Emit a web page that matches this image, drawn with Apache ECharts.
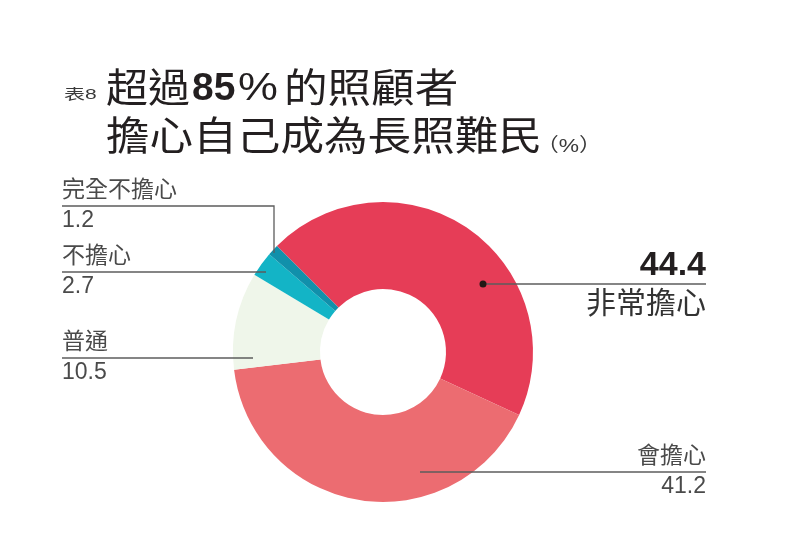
<!DOCTYPE html>
<html>
<head>
<meta charset="utf-8">
<script src="https://cdn.jsdelivr.net/npm/echarts@6/dist/echarts.min.js"></script>
<style>
  html, body { margin: 0; padding: 0; background: #fff; }
  #chart { width: 792px; height: 555px; }
</style>
</head>
<body>
<div id="chart"></div>
<script>
// data
const categories = ['非常擔心', '會擔心', '普通', '不擔心', '完全不擔心'];
const values = [44.4, 41.2, 10.5, 2.7, 1.2];
const colors = ['#e63d57', '#ec6c71', '#eff6ea', '#13b4c6', '#1190ab'];
const tableNo = '表8';
const titleLine1 = ['超過', '85', '%', '的照顧者'];
const titleLine2 = '擔心自己成為長照難民';
const unitText = '（%）';

// layout (pixels)
const center = [383, 352];
const anchors = [[100, -68], [37, 120], [-130, 6], [-117, -80], [-109, -99]];
const lineY = [284, 472, 358, 272, 206];
const lineEndX = [706, 706, 62, 62, 62];

const FONT = '"Liberation Sans", "Noto Sans CJK TC", sans-serif';
const INK = '#231f20';
const chart = echarts.init(document.getElementById('chart'));

const pieData = categories.map(function (name, i) {
    return { name: name, value: values[i], itemStyle: { color: colors[i] } };
});
const labelData = categories.map(function (name, i) {
    return { name: name, value: values[i], itemStyle: { color: 'rgba(0,0,0,0)' } };
});

const dot = [center[0] + anchors[0][0], center[1] + anchors[0][1]];

function titleText(x, y, text, size, sx, bold) {
    return {
        type: 'text', x: x, y: y, scaleX: sx,
        style: {
            text: text, fill: INK, verticalAlign: 'middle',
            font: (bold ? 'bold ' : '') + size + 'px ' + FONT
        }
    };
}

const pieBase = {
    type: 'pie',
    center: center,
    radius: [63, 150],
    startAngle: 135,
    clockwise: true,
    avoidLabelOverlap: false,
    silent: true
};

const option = {
    animation: false,
    backgroundColor: '#fff',
    graphic: [
        {
            type: 'text', x: 64, y: 95, scaleX: 1.5,
            style: { text: tableNo, font: '14px ' + FONT, fill: '#3a3a3a', verticalAlign: 'middle' }
        },
        titleText(106, 91, titleLine1[0], 40, 1.05, false),
        titleText(192, 89, titleLine1[1], 39, 1, true),
        titleText(238, 89, titleLine1[2], 39, 1.15, false),
        titleText(284, 91, titleLine1[3], 40, 1.09, false),
        titleText(106, 139, titleLine2, 40, 1.09, false),
        {
            type: 'text', x: 536, y: 147, scaleX: 1.2,
            style: { text: unitText, font: '19px ' + FONT, fill: '#3a3a3a', verticalAlign: 'middle' }
        },
        { type: 'circle', z: 100, shape: { cx: dot[0], cy: dot[1], r: 3.5 }, style: { fill: '#231815' } }
    ],
    series: [
        Object.assign({}, pieBase, {
            z: 2,
            data: pieData,
            itemStyle: { borderWidth: 0 },
            label: { show: false },
            labelLine: { show: false }
        }),
        // transparent copy on top, carrying labels and leader lines over the ring
        Object.assign({}, pieBase, {
            z: 5,
            data: labelData,
            itemStyle: { borderWidth: 0 },
            label: {
                show: true,
                position: 'outside',
                formatter: function (p) {
                    const v = p.value.toFixed(1);
                    if (p.dataIndex === 0) return '{big|' + v + '}\n{bn|' + p.name + '}';
                    return '{n|' + p.name + '}\n{v|' + v + '}';
                },
                rich: {
                    n: { fontSize: 23, lineHeight: 30, fontFamily: FONT, color: '#4a4a4a' },
                    v: { fontSize: 23, lineHeight: 30, fontFamily: FONT, color: '#4a4a4a' },
                    big: { fontSize: 34, lineHeight: 36, fontFamily: FONT, fontWeight: 'bold', color: INK },
                    bn: { fontSize: 30, lineHeight: 42, fontFamily: FONT, color: '#333' }
                }
            },
            labelLine: { show: true, lineStyle: { color: '#5c5c5c', width: 1.3 } },
            labelLayout: function (params) {
                const i = params.dataIndex;
                const ax = center[0] + anchors[i][0];
                const ay = center[1] + anchors[i][1];
                const right = lineEndX[i] > center[0];
                return {
                    x: lineEndX[i],
                    y: i === 0 ? lineY[i] - 36 : lineY[i],
                    align: right ? 'right' : 'left',
                    verticalAlign: i === 0 ? 'top' : 'middle',
                    labelLinePoints: [[ax, ay], [ax, lineY[i]], [lineEndX[i], lineY[i]]]
                };
            }
        })
    ]
};

chart.setOption(option);
</script>
</body>
</html>
